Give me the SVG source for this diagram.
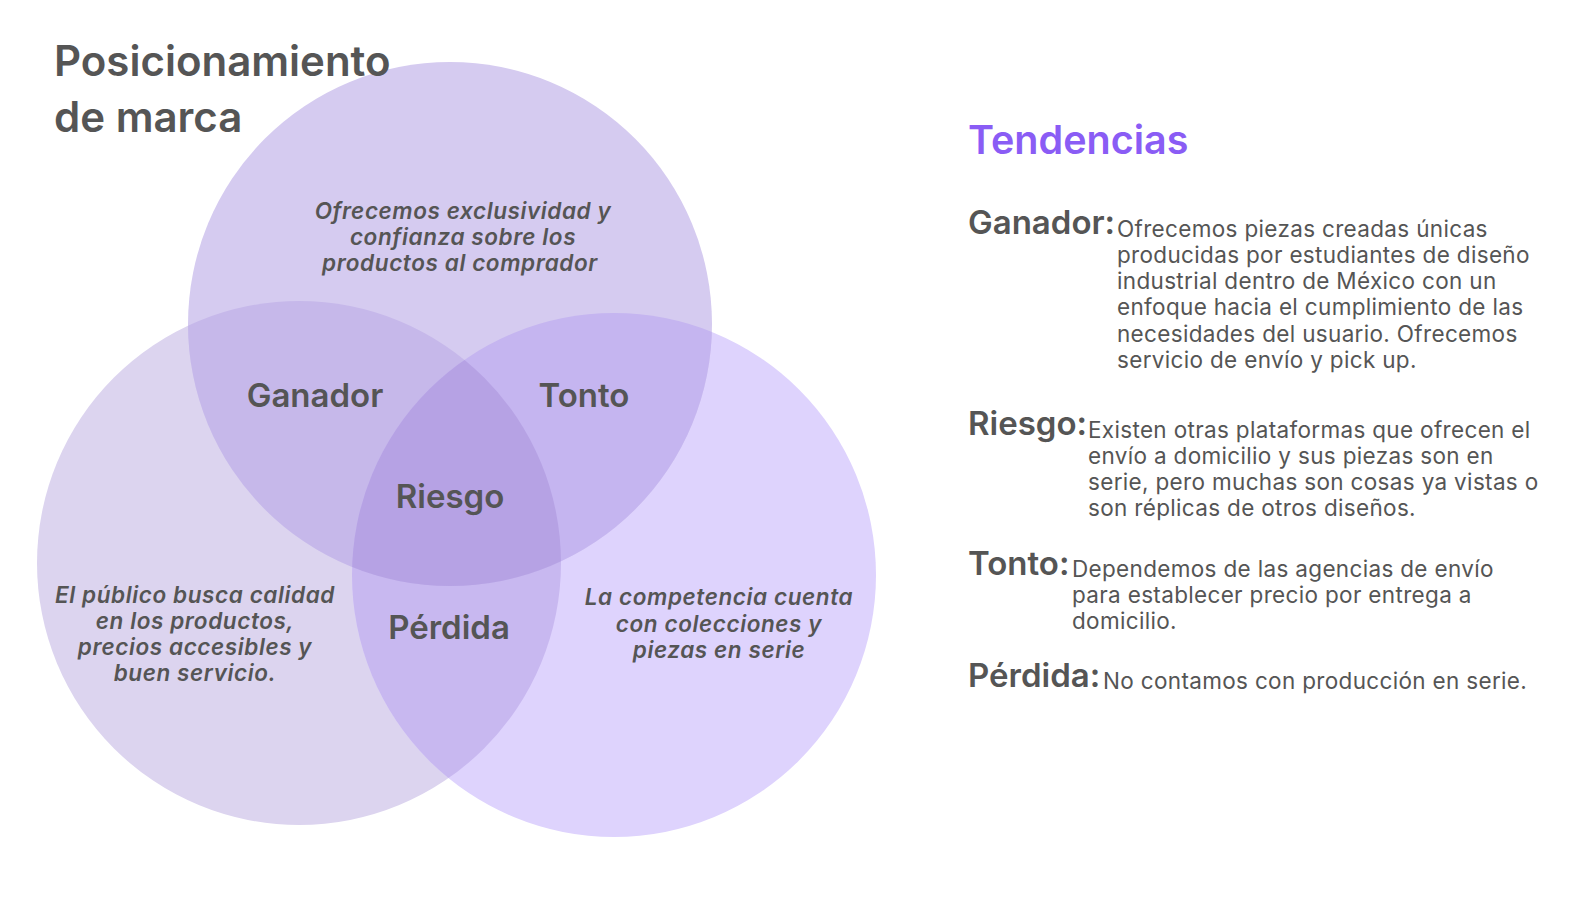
<svg xmlns="http://www.w3.org/2000/svg" width="1575" height="900" viewBox="0 0 1575 900">
<style>
.t{font-family:Inter,"Noto Sans","Liberation Sans",sans-serif;fill:#555555}
.h{font-size:42px;font-weight:600}
.lbl{font-size:33px;font-weight:600;text-anchor:middle}
.it{font-size:22.5px;font-weight:600;font-style:italic;text-anchor:middle;letter-spacing:0.6px}
.k{font-size:33px;font-weight:600}
.b{font-size:22.5px;font-weight:400;letter-spacing:0.33px}
</style>
<defs>
<clipPath id="cT"><circle cx="450" cy="324" r="262"/></clipPath>
<clipPath id="cL"><circle cx="299" cy="563" r="262"/></clipPath>
<clipPath id="cR"><circle cx="614" cy="575" r="262"/></clipPath>
</defs>
<rect width="1575" height="900" fill="#ffffff"/>
<g id="circles">
<circle cx="299" cy="563" r="262" fill="#DCD4EF"/>
<circle cx="614" cy="575" r="262" fill="#DED3FD"/>
<circle cx="450" cy="324" r="262" fill="#D5CBF0"/>
<g clip-path="url(#cL)"><circle cx="614" cy="575" r="262" fill="#C8B8F0"/></g>
<g clip-path="url(#cT)"><circle cx="299" cy="563" r="262" fill="#C6B8EA"/></g>
<g clip-path="url(#cT)"><circle cx="614" cy="575" r="262" fill="#C5B5F0"/></g>
<g clip-path="url(#cT)"><g clip-path="url(#cL)"><circle cx="614" cy="575" r="262" fill="#B6A2E4"/></g></g>
</g>
<g id="title">
<text class="t h" x="54" y="76">Posicionamiento</text>
<text class="t h" x="54" y="132">de marca</text>
</g>
<g id="venn-labels">
<text class="t lbl" x="315" y="407">Ganador</text>
<text class="t lbl" x="584" y="407">Tonto</text>
<text class="t lbl" x="450" y="508">Riesgo</text>
<text class="t lbl" x="449" y="639">Pérdida</text>
</g>
<g id="top-text">
<text class="t it" x="463" y="219">Ofrecemos exclusividad y</text>
<text class="t it" x="463" y="245">confianza sobre los</text>
<text class="t it" x="460" y="271">productos al comprador</text>
</g>
<g id="left-text">
<text class="t it" x="195" y="603">El público busca calidad</text>
<text class="t it" x="195" y="629">en los productos,</text>
<text class="t it" x="195" y="655">precios accesibles y</text>
<text class="t it" x="195" y="681">buen servicio.</text>
</g>
<g id="right-text">
<text class="t it" x="719" y="605">La competencia cuenta</text>
<text class="t it" x="719" y="632">con colecciones y</text>
<text class="t it" x="719" y="658">piezas en serie</text>
</g>
<g id="tendencias">
<text class="t" x="968" y="154" style="font-size:39.5px;font-weight:600;fill:#8A5CF5">Tendencias</text>
</g>
<g id="ganador">
<text class="t k" x="968" y="234">Ganador:</text>
<text class="t b" x="1117" y="237">Ofrecemos piezas creadas únicas</text>
<text class="t b" x="1117" y="263">producidas por estudiantes de diseño</text>
<text class="t b" x="1117" y="289">industrial dentro de México con un</text>
<text class="t b" x="1117" y="315">enfoque hacia el cumplimiento de las</text>
<text class="t b" x="1117" y="342">necesidades del usuario. Ofrecemos</text>
<text class="t b" x="1117" y="368">servicio de envío y pick up.</text>
</g>
<g id="riesgo">
<text class="t k" x="968" y="435">Riesgo:</text>
<text class="t b" x="1088" y="438">Existen otras plataformas que ofrecen el</text>
<text class="t b" x="1088" y="464">envío a domicilio y sus piezas son en</text>
<text class="t b" x="1088" y="490">serie, pero muchas son cosas ya vistas o</text>
<text class="t b" x="1088" y="516">son réplicas de otros diseños.</text>
</g>
<g id="tonto">
<text class="t k" x="968" y="575">Tonto:</text>
<text class="t b" x="1072" y="577">Dependemos de las agencias de envío</text>
<text class="t b" x="1072" y="603">para establecer precio por entrega a</text>
<text class="t b" x="1072" y="629">domicilio.</text>
</g>
<g id="perdida">
<text class="t k" x="968" y="687">Pérdida:</text>
<text class="t b" x="1103" y="689">No contamos con producción en serie.</text>
</g>
</svg>
